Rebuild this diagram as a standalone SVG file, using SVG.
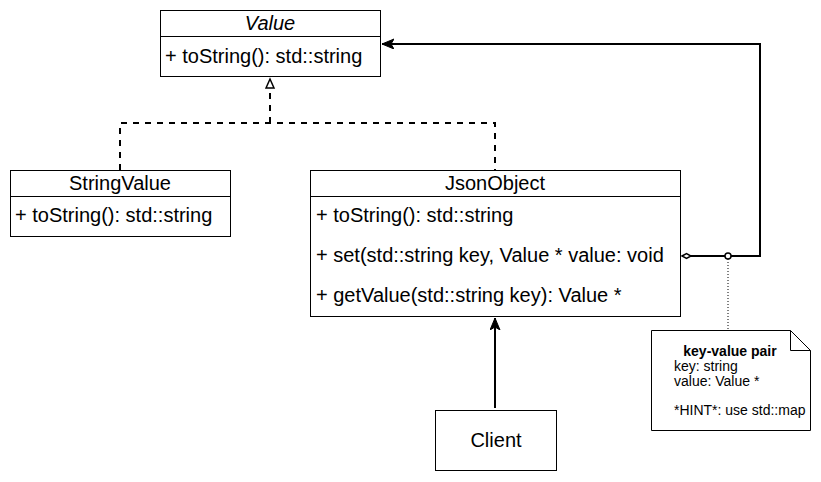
<svg xmlns="http://www.w3.org/2000/svg" width="821" height="482" viewBox="0 0 821 482">
<defs>
<style>
.box{fill:#fff;stroke:#000;stroke-width:1}
.t{font-family:"Liberation Sans",Arial,sans-serif;font-size:20px;fill:#000}
.c{text-anchor:middle}
.n{font-family:"Liberation Sans",Arial,sans-serif;font-size:14px;fill:#000}
.conn{fill:none;stroke:#000}
</style>
<marker id="tri" markerWidth="12" markerHeight="12" refX="10" refY="5" orient="auto" markerUnits="userSpaceOnUse">
<path d="M1,1 L10,5 L1,9 Z" fill="#fff" stroke="#000" stroke-width="1.5"/>
</marker>
<marker id="cls" markerWidth="14" markerHeight="12" refX="12" refY="5" orient="auto" markerUnits="userSpaceOnUse">
<path d="M0,0 L12,5 L0,10 L3,5 Z" fill="#000" stroke="#000" stroke-width="1"/>
</marker>
<marker id="dia" markerWidth="14" markerHeight="10" refX="1" refY="4" orient="auto" markerUnits="userSpaceOnUse">
<path d="M1,4 L5.5,1.5 L10,4 L5.5,6.5 Z" fill="#fff" stroke="#000" stroke-width="1.5"/>
</marker>
</defs>
<rect width="821" height="482" fill="#fff"/>
<g id="connectors">
<path class="conn" d="M120,170 V123 H495 V170" stroke-width="2" stroke-dasharray="6,6"/>
<path class="conn" d="M270,123 V79" stroke-width="2" stroke-dasharray="6,6" marker-end="url(#tri)"/>
<path class="conn" d="M495,408 V318" stroke-width="2" marker-end="url(#cls)"/>
<path class="conn" d="M682,256 H760 V44 H382" stroke-width="2" marker-start="url(#dia)" marker-end="url(#cls)"/>
<path class="conn" d="M728,259 V330" stroke="#555" stroke-width="1" stroke-dasharray="1,2"/>
<circle cx="728" cy="256" r="3" fill="#fff" stroke="#000" stroke-width="1.5"/>
</g>
<g id="Value">
<rect class="box" x="160.5" y="10.5" width="220" height="66"/>
<line x1="160.5" y1="36.5" x2="380.5" y2="36.5" stroke="#000"/>
<text class="t c" x="270" y="30" font-style="italic">Value</text>
<text class="t" x="165" y="63">+ toString(): std::string</text>
</g>
<g id="StringValue">
<rect class="box" x="10.5" y="170.5" width="220" height="66"/>
<line x1="10.5" y1="196.5" x2="230.5" y2="196.5" stroke="#000"/>
<text class="t c" x="120" y="190">StringValue</text>
<text class="t" x="15" y="222">+ toString(): std::string</text>
</g>
<g id="JsonObject">
<rect class="box" x="310.5" y="170.5" width="370" height="146"/>
<line x1="310.5" y1="196.5" x2="680.5" y2="196.5" stroke="#000"/>
<text class="t c" x="495" y="190">JsonObject</text>
<text class="t" x="316" y="222">+ toString(): std::string</text>
<text class="t" x="316" y="262">+ set(std::string key, Value * value: void</text>
<text class="t" x="316" y="302">+ getValue(std::string key): Value *</text>
</g>
<g id="Client">
<rect class="box" x="435.5" y="410.5" width="121" height="60"/>
<text class="t c" x="496" y="447">Client</text>
</g>
<g id="note">
<path d="M651.5,330.5 H790.5 L810.5,350.5 V430.5 H651.5 Z" fill="#fff" stroke="#000"/>
<path d="M790.5,330.5 V350.5 H810.5" fill="none" stroke="#000"/>
<text class="n c" x="730" y="356" font-weight="bold">key-value pair</text>
<text class="n" x="674" y="371">key: string</text>
<text class="n" x="674" y="386">value: Value *</text>
<text class="n" x="674" y="415">*HINT*: use std::map</text>
</g>
</svg>
